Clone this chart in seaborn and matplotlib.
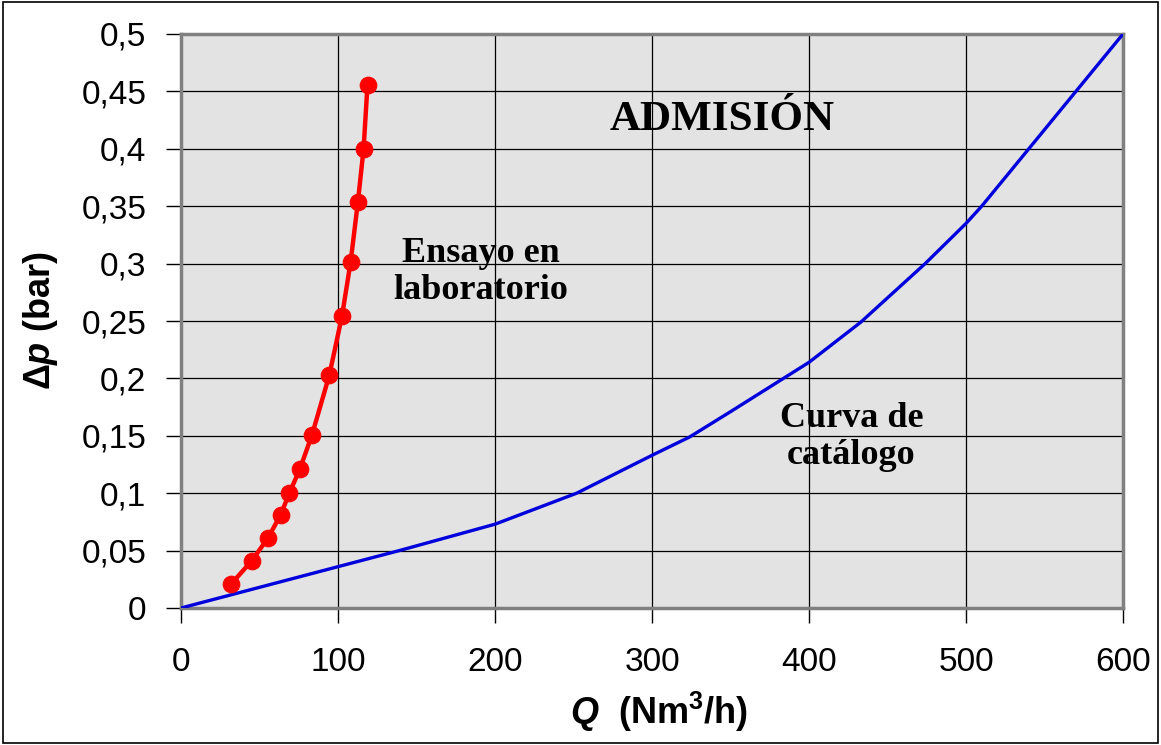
import matplotlib
matplotlib.use("Agg")
import matplotlib.pyplot as plt
import seaborn as sns
import pandas as pd
from matplotlib.patches import Rectangle

# Data
lab_q = [32, 45, 55.4, 63.4, 69, 75.7, 83.5, 94.5, 102.5, 108, 112.7, 116.3, 118.8]
lab_dp = [0.021, 0.041, 0.061, 0.081, 0.100, 0.121, 0.151, 0.203, 0.254, 0.301, 0.354, 0.400, 0.456]
cat_q = [0, 50, 100, 139, 200, 252, 300, 324, 350, 400, 433, 474, 500, 510, 540, 570, 600]
cat_dp = [0, 0.018, 0.036, 0.05, 0.073, 0.100, 0.133, 0.149, 0.171, 0.214, 0.249, 0.300, 0.335, 0.350, 0.400, 0.450, 0.500]
x_ticks = [0, 100, 200, 300, 400, 500, 600]
y_ticks = [0, 0.05, 0.1, 0.15, 0.2, 0.25, 0.3, 0.35, 0.4, 0.45, 0.5]
y_tick_labels = ["0", "0,05", "0,1", "0,15", "0,2", "0,25", "0,3", "0,35", "0,4", "0,45", "0,5"]
x_tick_labels = ["0", "100", "200", "300", "400", "500", "600"]

sns.set_theme(style="white")
plt.rcParams["font.family"] = ["Liberation Sans", "DejaVu Sans"]
plt.rcParams["mathtext.fontset"] = "custom"
plt.rcParams["mathtext.rm"] = "Liberation Sans:bold"
plt.rcParams["mathtext.bf"] = "Liberation Sans:bold"
plt.rcParams["mathtext.it"] = "Liberation Sans:italic:bold"
plt.rcParams["text.color"] = "black"
plt.rcParams["axes.labelcolor"] = "black"

fig = plt.figure(figsize=(11.61, 7.45), dpi=100)
ax = fig.add_axes([181/1161, 1-608/745, (1123-181)/1161, (608-34)/745])
ax.set_facecolor("#e3e3e3")

lab = pd.DataFrame({"Q": lab_q, "dp": lab_dp})
cat = pd.DataFrame({"Q": cat_q, "dp": cat_dp})

sns.lineplot(data=cat, x="Q", y="dp", ax=ax, color="#0000dd", linewidth=2.4, sort=False, zorder=3)
sns.lineplot(data=lab, x="Q", y="dp", ax=ax, color="#ff0000", linewidth=3.2, marker="o",
             markersize=12, markeredgecolor="#ff0000", sort=False, zorder=4)

ax.set_xlim(0, 600)
ax.set_ylim(0, 0.5)
ax.set_xticks(x_ticks)
ax.set_xticklabels(x_tick_labels)
ax.set_yticks(y_ticks)
ax.set_yticklabels(y_tick_labels)
ax.grid(True, color="black", linewidth=0.9)
ax.set_axisbelow(True)

for s in ax.spines.values():
    s.set_color("#808080")
    s.set_linewidth(2.5)

ax.tick_params(axis="both", which="both", direction="out", length=11, width=1, color="black",
               bottom=True, left=True, labelsize=24, labelcolor="black")
ax.tick_params(axis="y", pad=14)
ax.tick_params(axis="x", pad=17)

ax.set_xlabel(r"$Q$  (Nm$^{3}$/h)", fontsize=26, fontweight="bold")
ax.set_ylabel(r"$\mathit{\Delta p}$ (bar)", fontsize=26, fontweight="bold")
ax.xaxis.set_label_coords(0.508, -0.143)
ax.yaxis.set_label_coords(-0.128, 0.5)

serif = ["Liberation Serif", "DejaVu Serif"]
ax.text(345, 0.425, "ADMISIÓN", fontsize=31, fontweight="bold", family=serif,
        ha="center", va="center", color="black")
ax.text(191, 0.293, "Ensayo en\nlaboratorio", fontsize=26, fontweight="bold", family=serif,
        ha="center", va="center", linespacing=1.15, color="black")
ax.text(427, 0.149, "Curva de\ncatálogo", fontsize=26, fontweight="bold", family=serif,
        ha="center", va="center", linespacing=1.15, color="black")

fig.patches.append(Rectangle((0.003, 0.003), 0.994, 0.994, transform=fig.transFigure,
                             fill=False, edgecolor="black", linewidth=1.2))

fig.savefig("out.png", dpi=100, facecolor="white")
